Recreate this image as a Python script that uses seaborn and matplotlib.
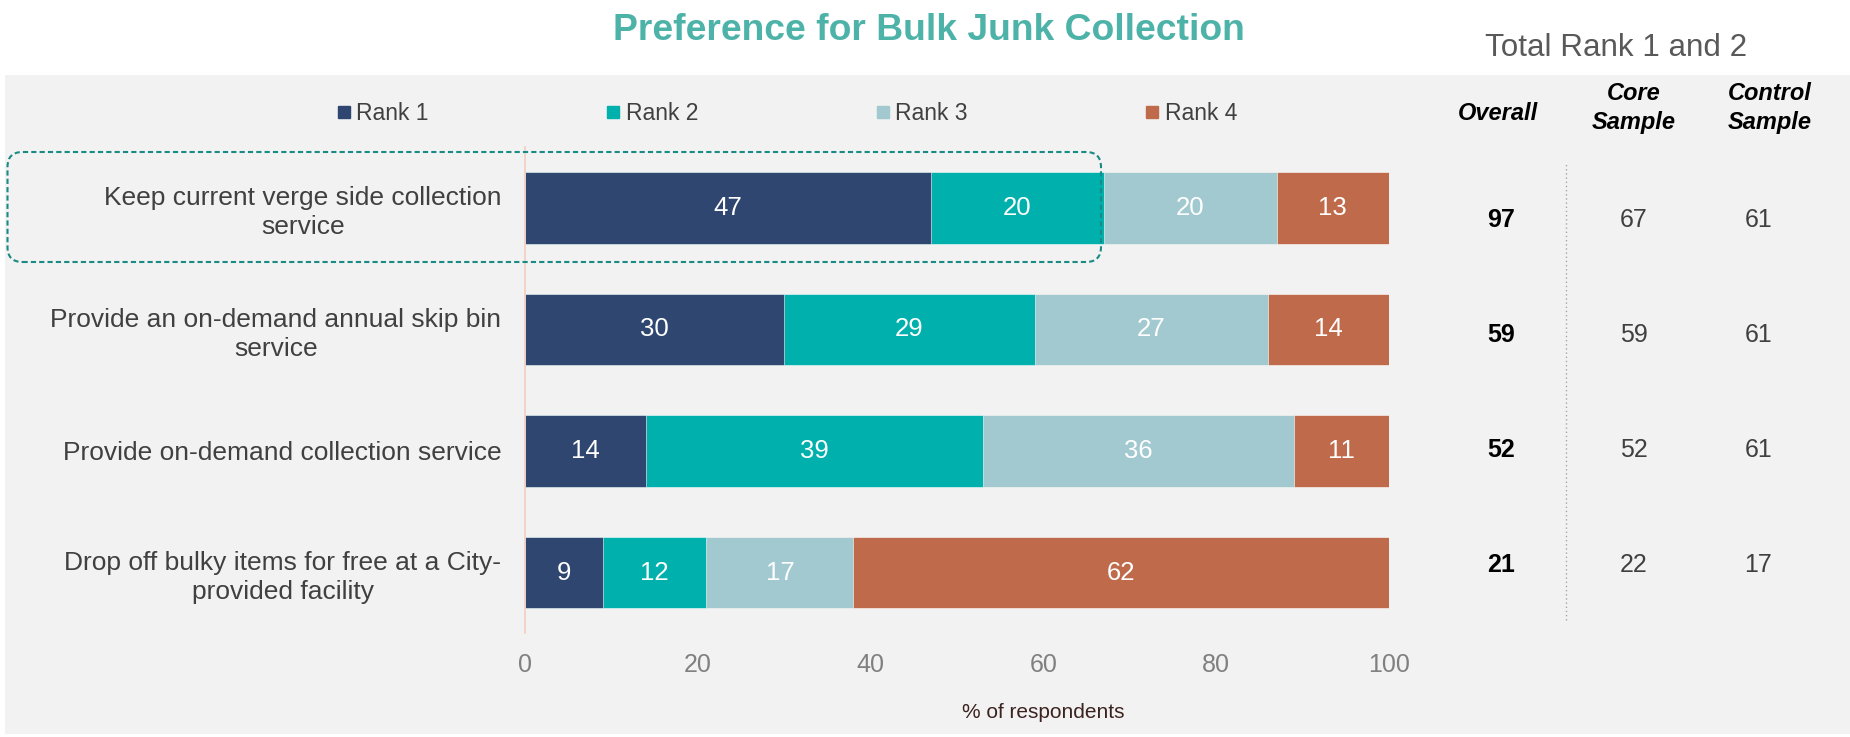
import matplotlib
matplotlib.use('Agg')
import matplotlib.pyplot as plt
from matplotlib.patches import FancyBboxPatch, Rectangle
from matplotlib.lines import Line2D
import pandas as pd
import seaborn as sns

# chart data
options = ["Keep current verge side collection\nservice",
           "Provide an on-demand annual skip bin\nservice",
           "Provide on-demand collection service",
           "Drop off bulky items for free at a City-\nprovided facility"]
ranks = ["Rank 1", "Rank 2", "Rank 3", "Rank 4"]
rank1 = [47, 30, 14, 9]
rank2 = [20, 29, 39, 12]
rank3 = [20, 27, 36, 17]
rank4 = [13, 14, 11, 62]
overall = [97, 59, 52, 21]
core_sample = [67, 59, 52, 22]
control_sample = [61, 61, 61, 17]
xticks = [0, 20, 40, 60, 80, 100]

colors = ["#2F4670", "#00B0AD", "#A1C9CF", "#BF6A4A"]

sns.set_theme(style="white")
plt.rcParams['font.family'] = ['Liberation Sans', 'DejaVu Sans']

W, H = 1850, 737
fig = plt.figure(figsize=(W / 100, H / 100), dpi=100)
fig.patch.set_facecolor('white')

# grey panel behind everything
fig.add_artist(Rectangle((5 / W, 3 / H), 1, (734 - 75) / H, transform=fig.transFigure,
                         facecolor='#F2F2F2', edgecolor='none', zorder=-1))

df = pd.DataFrame({'option': options, 'Rank 1': rank1, 'Rank 2': rank2,
                   'Rank 3': rank3, 'Rank 4': rank4})
cum = df[ranks].cumsum(axis=1)

ax = fig.add_axes([525 / W, (H - 633.25) / H, 864 / W, 486 / H])
ax.set_facecolor('none')

# stacked bars: draw the cumulative totals from the longest down
for k in reversed(range(4)):
    sns.barplot(x=cum[ranks[k]], y=df['option'], color=colors[k], orient='h',
                width=0.59, saturation=1, ax=ax, edgecolor='#FFFFFF',
                linewidth=0.4)

for i in range(len(options)):
    for k in range(4):
        v = df[ranks[k]][i]
        c = cum[ranks[k]][i]
        ax.text(c - v / 2, i, str(v), ha='center', va='center', color='white',
                fontsize=18.5)

ax.set_xlim(0, 100)
ax.set_ylim(3.5, -0.5)
ax.set_xticks(xticks)
ax.set_ylabel('')
for s in ['top', 'right', 'bottom']:
    ax.spines[s].set_visible(False)
ax.spines['left'].set_color('#F4CDBF')
ax.spines['left'].set_linewidth(1.2)
ax.tick_params(axis='x', length=0, pad=14, labelsize=18, labelcolor='#808080')
ax.tick_params(axis='y', length=0, pad=17, labelsize=19, labelcolor='#404040')
for lbl in ax.get_yticklabels():
    lbl.set_multialignment('center')
    lbl.set_linespacing(1.25)
ax.set_xlabel('% of respondents', fontsize=15, color='#3B2320')
ax.xaxis.set_label_coords(0.6, -0.163)
ax.xaxis.label.set_va('center')

# side table
tax = fig.add_axes([1440 / W, (H - 622.75) / H, 410 / W, 460.5 / H])
tax.set_xlim(0, 1)
tax.set_ylim(3.5, -0.5)
tax.axis('off')
col_x = [0.149, 0.473, 0.776]
for i in range(len(options)):
    tax.text(col_x[0], i, str(overall[i]), ha='center', va='center',
             fontsize=18, fontweight='bold', color='black')
    tax.text(col_x[1], i, str(core_sample[i]), ha='center', va='center',
             fontsize=18, color='#404040')
    tax.text(col_x[2], i, str(control_sample[i]), ha='center', va='center',
             fontsize=18, color='#404040')
tax.axvline(0.307, ymin=0.005, ymax=1.0, color='#A6A6A6', ls=(0, (1, 2)), lw=1)

fig.text(1498 / W, 1 - 113 / H, 'Overall', ha='center', va='center', fontsize=17,
         fontweight='bold', fontstyle='italic', color='black')
for x, t in [(1634, 'Core\nSample'), (1770, 'Control\nSample')]:
    fig.text(x / W, 1 - 108 / H, t, ha='center', va='center', fontsize=17,
             fontweight='bold', fontstyle='italic', color='black', linespacing=1.3)

# legend
handles = [Line2D([], [], marker='s', ls='none', color=c, markersize=8) for c in colors]
fig.legend(handles=handles, labels=ranks, loc='center left',
           bbox_to_anchor=(338 / W, 1 - 114 / H), ncol=4, frameon=False,
           handlelength=0.5, handletextpad=0.3, columnspacing=7.8,
           fontsize=16.5, labelcolor='#404040', borderpad=0, borderaxespad=0)

fig.text(929 / W, 1 - 30 / H, 'Preference for Bulk Junk Collection', ha='center',
         va='center', fontsize=26.8, fontweight='bold', color='#4DB3A8')
fig.text(1616 / W, 1 - 48 / H, 'Total Rank 1 and 2', ha='center', va='center',
         fontsize=22.6, color='#595959')

# dashed highlight around the first row
fig.add_artist(FancyBboxPatch((0.075, (H - 262) / 100), (1101 - 7.5) / 100, 1.10,
                              boxstyle='round,pad=0,rounding_size=0.15',
                              transform=fig.dpi_scale_trans, fill=False,
                              edgecolor='#1A8A84', lw=1.5, ls=(0, (2.5, 1.5)),
                              zorder=5))

fig.savefig('out.png', dpi=100, facecolor='white')
